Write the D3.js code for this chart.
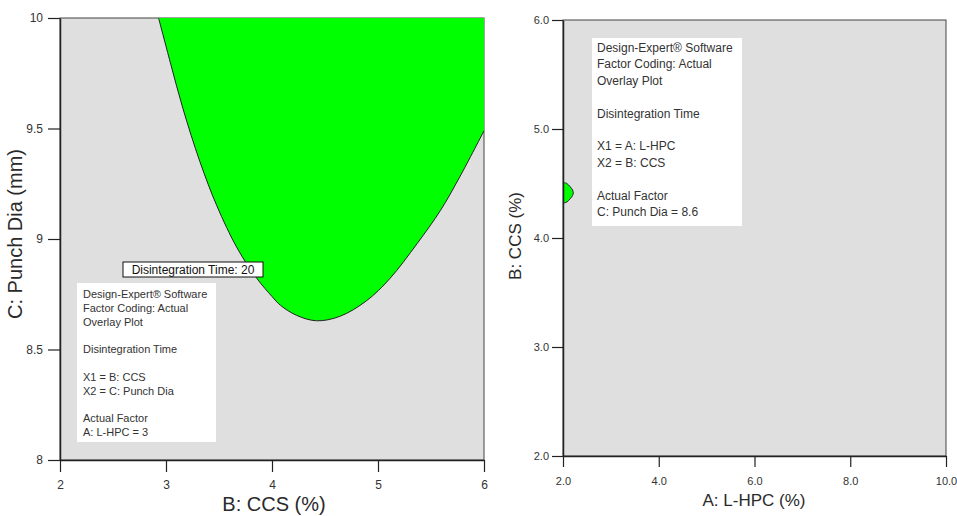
<!DOCTYPE html>
<html>
<head>
<meta charset="utf-8">
<script src="https://cdn.jsdelivr.net/npm/d3@7"></script>
<style>
  body { margin: 0; background: #fff; }
  svg { display: block; font-family: "Liberation Sans", Arial, sans-serif; }
</style>
</head>
<body>
<script>
// left panel: B (CCS) vs C (Punch Dia), A fixed at 3
const leftTicksX = [2, 3, 4, 5, 6];
const leftTicksY = [8, 8.5, 9, 9.5, 10];
// contour Disintegration Time = 20
const contourB = [2.93, 3.04, 3.16, 3.32, 3.48, 3.67, 3.86, 4.00, 4.08, 4.23, 4.42, 4.64, 4.89, 5.11, 5.37, 5.59, 5.77, 6.00];
const contourC = [10.0, 9.80, 9.59, 9.35, 9.15, 8.96, 8.82, 8.74, 8.70, 8.655, 8.63, 8.65, 8.72, 8.82, 8.98, 9.13, 9.28, 9.49];
const leftNotes = ["Design-Expert\u00ae Software", "Factor Coding: Actual", "Overlay Plot", "",
  "Disintegration Time", "", "X1 = B: CCS", "X2 = C: Punch Dia", "", "Actual Factor", "A: L-HPC = 3"];

// right panel: A (L-HPC) vs B (CCS), C fixed at 8.6
const rightTicksX = [2, 4, 6, 8, 10];
const rightTicksY = [2, 3, 4, 5, 6];
const blobA = [2.0, 2.08, 2.15, 2.2, 2.215, 2.2, 2.15, 2.08, 2.0];
const blobB = [4.51, 4.50, 4.47, 4.44, 4.415, 4.39, 4.36, 4.33, 4.32];
const rightNotes = ["Design-Expert\u00ae Software", "Factor Coding: Actual", "Overlay Plot", "",
  "Disintegration Time", "", "X1 = A: L-HPC", "X2 = B: CCS", "", "Actual Factor", "C: Punch Dia = 8.6"];

const width = 957, height = 516;
const bg = "#dfdfdf", green = "#00ff00";

const svg = d3.select("body").append("svg")
  .attr("width", width).attr("height", height);

function panel(opts) {
  const x = d3.scaleLinear().domain(opts.xDomain).range(opts.xRange);
  const y = d3.scaleLinear().domain(opts.yDomain).range(opts.yRange);
  const g = svg.append("g");

  g.append("clipPath").attr("id", opts.id)
    .append("rect")
    .attr("x", x.range()[0]).attr("y", y.range()[1])
    .attr("width", x.range()[1] - x.range()[0])
    .attr("height", y.range()[0] - y.range()[1]);

  g.append("rect")
    .attr("x", x.range()[0]).attr("y", y.range()[1])
    .attr("width", x.range()[1] - x.range()[0])
    .attr("height", y.range()[0] - y.range()[1])
    .attr("fill", bg)
    .attr("stroke", "#444").attr("stroke-width", 1);

  const area = g.append("g").attr("clip-path", `url(#${opts.id})`);
  opts.draw(area, x, y);

  const xAxis = d3.axisBottom(x).tickValues(opts.xTicks).tickFormat(opts.fmt)
    .tickSize(opts.tick).tickSizeOuter(0).tickPadding(opts.xPad);
  const yAxis = d3.axisLeft(y).tickValues(opts.yTicks).tickFormat(opts.fmt)
    .tickSize(opts.tick).tickSizeOuter(0).tickPadding(opts.yPad);

  const gx = g.append("g").attr("transform", `translate(0,${y.range()[0]})`).call(xAxis);
  const gy = g.append("g").attr("transform", `translate(${x.range()[0]},0)`).call(yAxis);
  [gx, gy].forEach(a => {
    a.select(".domain").attr("stroke", "#222").attr("stroke-width", 1.5);
    a.selectAll(".tick line").attr("stroke", "#222").attr("stroke-width", 1.2);
    a.selectAll(".tick text").attr("fill", "#333")
      .attr("font-size", opts.tickFont).attr("font-family", "Liberation Sans, Arial, sans-serif");
  });

  g.append("text")
    .attr("x", opts.xTitlePos[0]).attr("y", opts.xTitlePos[1])
    .attr("text-anchor", "middle").attr("font-size", opts.titleFont).attr("fill", "#2a2a2a")
    .text(opts.xTitle);
  g.append("text")
    .attr("transform", `translate(${opts.yTitlePos[0]},${opts.yTitlePos[1]}) rotate(-90)`)
    .attr("text-anchor", "middle").attr("dominant-baseline", "central")
    .attr("font-size", opts.titleFont).attr("fill", "#2a2a2a")
    .text(opts.yTitle);

  // info box
  const nb = opts.notesBox;
  g.append("rect").attr("x", nb.x).attr("y", nb.y).attr("width", nb.w).attr("height", nb.h)
    .attr("fill", "#fff");
  g.append("g").selectAll("text").data(opts.notes).join("text")
    .attr("x", nb.x + nb.pad)
    .attr("y", (d, i) => nb.y + nb.top + i * nb.step)
    .attr("dominant-baseline", "central")
    .attr("font-size", nb.font).attr("fill", "#333")
    .text(d => d);
  return { x, y, g };
}

// left panel
const left = panel({
  id: "clipL",
  xDomain: [2, 6], xRange: [60, 484],
  yDomain: [8, 10], yRange: [460, 18],
  xTicks: leftTicksX, yTicks: leftTicksY, fmt: d3.format(""),
  tick: 12, xPad: 8, yPad: 5, tickFont: 12,
  titleFont: 20, xTitle: "B: CCS (%)", yTitle: "C: Punch Dia (mm)",
  xTitlePos: [274, 511], yTitlePos: [15, 234],
  notes: leftNotes,
  notesBox: { x: 77, y: 283, w: 139, h: 159, pad: 6, top: 11, step: 13.8, font: 11 },
  draw: (area, x, y) => {
    const pts = contourB.map((b, i) => [b, contourC[i]]);
    const line = d3.line().curve(d3.curveCatmullRom.alpha(0.5)).x(d => x(d[0])).y(d => y(d[1]));
    const last = pts[pts.length - 1];
    area.append("path")
      .attr("d", line(pts) + `L${x(last[0])},${y(10)}L${x(pts[0][0])},${y(10)}Z`)
      .attr("fill", green);
    area.append("path")
      .attr("d", line(pts))
      .attr("fill", "none").attr("stroke", "#222").attr("stroke-width", 1);
  }
});

// disintegration time label
left.g.append("rect").attr("x", 123).attr("y", 262).attr("width", 140).attr("height", 15)
  .attr("fill", "#fff").attr("stroke", "#111").attr("stroke-width", 1);
left.g.append("text").attr("x", 193).attr("y", 269.5)
  .attr("text-anchor", "middle").attr("dominant-baseline", "central")
  .attr("font-size", 12).attr("fill", "#111")
  .text("Disintegration Time: 20");

// right panel
panel({
  id: "clipR",
  xDomain: [2, 10], xRange: [563, 946],
  yDomain: [2, 6], yRange: [456, 20],
  xTicks: rightTicksX, yTicks: rightTicksY, fmt: d3.format(".1f"),
  tick: 11, xPad: 10, yPad: 3, tickFont: 11,
  titleFont: 17, xTitle: "A: L-HPC (%)", yTitle: "B: CCS (%)",
  xTitlePos: [754, 506], yTitlePos: [515, 236],
  notes: rightNotes,
  notesBox: { x: 592, y: 38, w: 150, h: 188, pad: 5, top: 10, step: 16.4, font: 12 },
  draw: (area, x, y) => {
    const pts = blobA.map((a, i) => [a, blobB[i]]);
    const line = d3.line().curve(d3.curveCatmullRom.alpha(0.5)).x(d => x(d[0])).y(d => y(d[1]));
    area.append("path")
      .attr("d", line(pts) + "Z")
      .attr("fill", green).attr("stroke", "#222").attr("stroke-width", 1);
  }
});
</script>
</body>
</html>
